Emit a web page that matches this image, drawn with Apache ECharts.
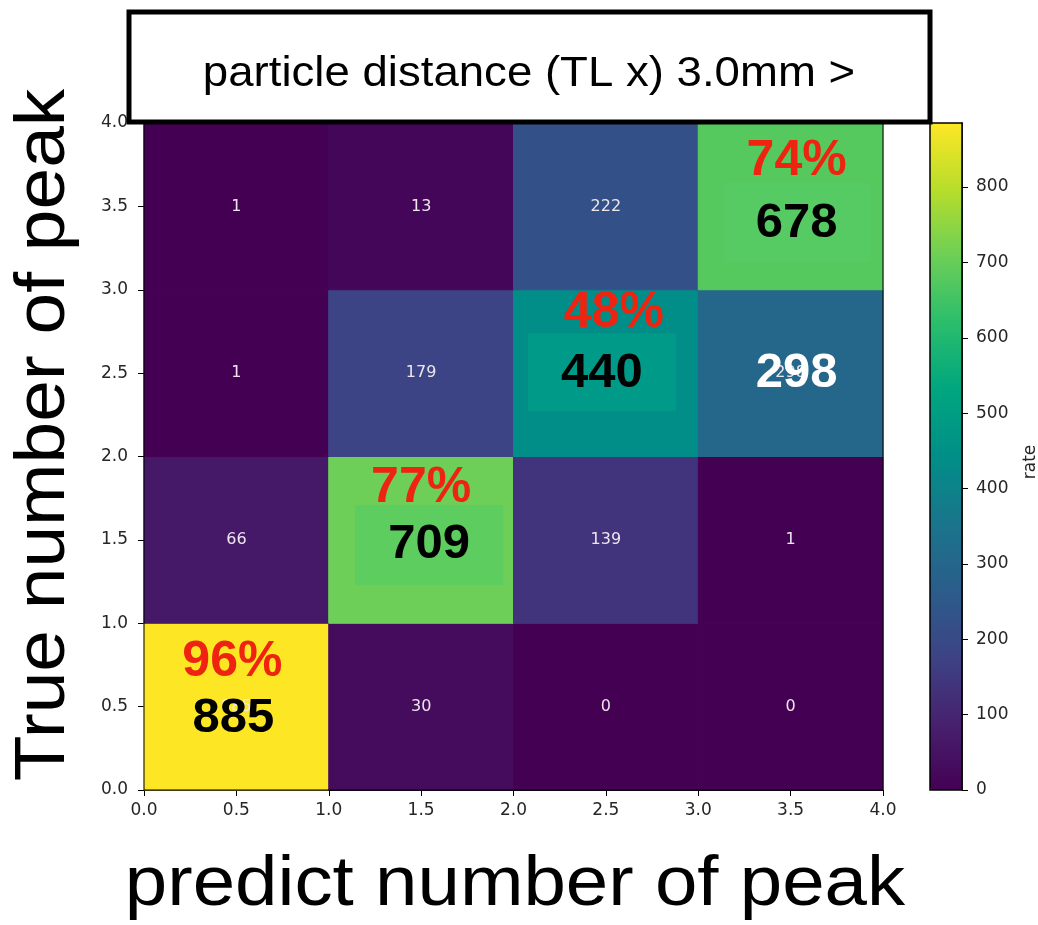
<!DOCTYPE html>
<html><head><meta charset="utf-8">
<script src="https://cdn.jsdelivr.net/npm/echarts@6/dist/echarts.min.js"></script>
<style>html,body{margin:0;padding:0;background:#fff}#c{width:1038px;height:925px}</style>
</head><body><div id="c"></div>
<script>
// ---- data ----
const predictBins = [0, 1, 2, 3];        // lower edge of each predicted-count cell
const trueBins = [0, 1, 2, 3];           // lower edge of each true-count cell
// counts per true-count row, columns = predicted count
const countsTrue0 = [885, 30, 0, 0];
const countsTrue1 = [66, 709, 139, 1];
const countsTrue2 = [1, 179, 440, 298];
const countsTrue3 = [1, 13, 222, 678];
const axisTickValues = [0, 0.5, 1, 1.5, 2, 2.5, 3, 3.5, 4];
const colorbarTicks = [0, 100, 200, 300, 400, 500, 600, 700, 800];
const colorMin = 0, colorMax = 885;
// annotated cells: [predictIndex, trueIndex, big label, percent label]
const annotCells = [
  [0, 0, '885', '96%'],
  [1, 1, '709', '77%'],
  [2, 2, '440', '48%'],
  [3, 3, '678', '74%'],
  [3, 2, '298', '']
];
const titleText = 'particle distance (TL x) 3.0mm >';
const xName = 'predict number of peak';
const yName = 'True number of peak';
const cbarName = 'rate';

// ---- styles (positions relative to cell centre, px) ----
const annotStyle = [
  {pct: [-4, -44], num: [-3, 12], numColor: '#000', patch: null},
  {pct: [0, -52], num: [8, 5], numColor: '#000', patch: {off: [8, 5], w: 148, h: 80, fill: '#5ccd5e'}},
  {pct: [8, -60], num: [-4, 0], numColor: '#000', patch: {off: [-4, -1], w: 148, h: 78, fill: '#009a89'}},
  {pct: [6, -45], num: [6, 17], numColor: '#000', patch: {off: [7, 16], w: 147, h: 79, fill: '#56cb63'}},
  {pct: [0, 0], num: [6, 0], numColor: '#fff', patch: null}
];

const viridis = ['#440154','#47216f','#3d4385','#2b5d8b','#1a758b','#008e88','#00a67f','#2abd6c','#6ccf57','#b7dd2b','#fde725'];

const rows = [countsTrue0, countsTrue1, countsTrue2, countsTrue3];
const cellData = [];
trueBins.forEach((t, i) => predictBins.forEach((p, j) => cellData.push([p, t, rows[i][j]])));
const annotData = annotCells.map((a, k) => [a[0], a[1], k]);

const tickFont = {fontSize: 17, color: '#262626', fontFamily: 'DejaVu Sans'};
const chart = echarts.init(document.getElementById('c'));
chart.setOption({
  animation: false,
  grid: [
    {left: 144, top: 123, width: 739, height: 667, show: true, borderColor: '#000', borderWidth: 1, backgroundColor: 'transparent', z: 3},
    {left: 930, top: 123, width: 32, height: 667, show: true, borderColor: '#000', borderWidth: 1.5, backgroundColor: 'transparent', z: 10}
  ],
  xAxis: [
    {gridIndex: 0, type: 'value', min: 0, max: 4,
     axisLine: {show: true, onZero: false, lineStyle: {color: '#000'}},
     axisTick: {show: true, length: 6, lineStyle: {color: '#000'}, customValues: axisTickValues},
     axisLabel: Object.assign({margin: 12, customValues: axisTickValues, formatter: v => v.toFixed(1)}, tickFont),
     splitLine: {show: false}},
    {gridIndex: 1, type: 'value', show: false, min: 0, max: 1}
  ],
  yAxis: [
    {gridIndex: 0, type: 'value', min: 0, max: 4,
     axisLine: {show: true, onZero: false, lineStyle: {color: '#000'}},
     axisTick: {show: true, length: 6, lineStyle: {color: '#000'}, customValues: axisTickValues},
     axisLabel: Object.assign({margin: 16, customValues: axisTickValues, formatter: v => v.toFixed(1)}, tickFont),
     splitLine: {show: false}},
    {gridIndex: 1, type: 'value', min: colorMin, max: colorMax, position: 'right',
     axisLine: {show: true, onZero: false, lineStyle: {color: '#000', width: 1.5}},
     axisTick: {show: true, length: 6, lineStyle: {color: '#000'}, customValues: colorbarTicks},
     axisLabel: Object.assign({margin: 14, customValues: colorbarTicks}, tickFont),
     splitLine: {show: false}}
  ],
  visualMap: {
    type: 'continuous', min: colorMin, max: colorMax, seriesIndex: 0, dimension: 2,
    inRange: {color: viridis}, calculable: false, hoverLink: false,
    left: 930, top: 123, itemWidth: 32, itemHeight: 667, padding: 0,
    text: null, showLabel: false, orient: 'vertical'
  },
  series: [
    {type: 'custom', xAxisIndex: 0, yAxisIndex: 0, data: cellData, silent: true,
     encode: {x: 0, y: 1},
     renderItem(params, api) {
       const x = api.value(0), y = api.value(1);
       const a = api.coord([x, y + 1]), b = api.coord([x + 1, y]);
       const col = api.visual('color');
       return {type: 'group', children: [
         {type: 'rect', shape: {x: a[0], y: a[1], width: b[0] - a[0], height: b[1] - a[1]}, style: {fill: col, stroke: col, lineWidth: 1}},
         {type: 'text', style: {text: String(api.value(2)), x: (a[0] + b[0]) / 2, y: (a[1] + b[1]) / 2,
           align: 'center', verticalAlign: 'middle', fill: '#ece6ec', fontSize: 16, fontFamily: 'DejaVu Sans'}}
       ]};
     }},
    {type: 'custom', xAxisIndex: 0, yAxisIndex: 0, data: annotData, silent: true, z: 5,
     encode: {x: 0, y: 1},
     renderItem(params, api) {
       const x = api.value(0), y = api.value(1), k = api.value(2);
       const st = annotStyle[k];
       const c = api.coord([x + 0.5, y + 0.5]);
       const kids = [];
       if (st.patch) {
         kids.push({type: 'rect', shape: {x: c[0] + st.patch.off[0] - st.patch.w / 2, y: c[1] + st.patch.off[1] - st.patch.h / 2, width: st.patch.w, height: st.patch.h}, style: {fill: st.patch.fill}});
       }
       kids.push({type: 'text', style: {text: annotCells[k][2], x: c[0] + st.num[0], y: c[1] + st.num[1], align: 'center', verticalAlign: 'middle',
         fill: st.numColor, fontSize: 49, fontWeight: 'bold', fontFamily: 'Liberation Sans'}});
       const pct = annotCells[k][3];
       if (pct) kids.push({type: 'text', style: {text: pct, x: c[0] + st.pct[0], y: c[1] + st.pct[1], align: 'center', verticalAlign: 'middle',
         fill: '#ee2411', fontSize: 50, fontWeight: 'bold', fontFamily: 'Liberation Sans'}});
       return {type: 'group', children: kids};
     }}
  ],
  graphic: [
    {type: 'rect', z: 100, shape: {x: 129, y: 12, width: 801, height: 110}, style: {fill: '#fff', stroke: '#000', lineWidth: 5}},
    {type: 'text', z: 101, x: 529, y: 74, scaleX: 1.06, style: {text: titleText, x: 0, y: 0, align: 'center', verticalAlign: 'middle', fontSize: 43, fontFamily: 'Liberation Sans', fill: '#000'}},
    {type: 'text', z: 101, x: 45, y: 435, rotation: Math.PI / 2, scaleX: 1.07, style: {text: yName, x: 0, y: 0, align: 'center', verticalAlign: 'middle', fontSize: 70, fontFamily: 'Liberation Sans', fill: '#000'}},
    {type: 'text', z: 101, x: 515, y: 886, scaleX: 1.09, style: {text: xName, x: 0, y: 0, align: 'center', verticalAlign: 'middle', fontSize: 70, fontFamily: 'Liberation Sans', fill: '#000'}},
    {type: 'text', z: 101, x: 1031, y: 462, rotation: Math.PI / 2, style: {text: cbarName, x: 0, y: 0, align: 'center', verticalAlign: 'middle', fontSize: 17, fontFamily: 'DejaVu Sans', fill: '#262626'}}
  ]
});
</script>
</body></html>
